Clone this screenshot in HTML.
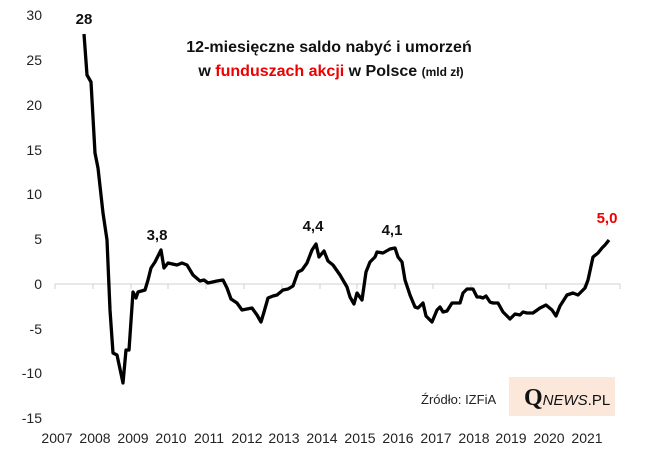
<!DOCTYPE html>
<html><head><meta charset="utf-8"><style>
body{margin:0;background:#fff}
svg{display:block;font-family:"Liberation Sans",sans-serif}
</style></head><body>
<svg width="648" height="455" viewBox="0 0 648 455">
<g font-size="14" fill="#222" text-anchor="end">
<text x="42" y="20">30</text><text x="42" y="65">25</text><text x="42" y="110">20</text>
<text x="42" y="155">15</text><text x="42" y="199">10</text><text x="42" y="244">5</text>
<text x="42" y="289">0</text><text x="42" y="334">-5</text><text x="42" y="378">-10</text><text x="42" y="423">-15</text>
</g>
<line x1="55" y1="284" x2="620" y2="284" stroke="#d0d0d0" stroke-width="1"/>
<g stroke="#d0d0d0">
<line x1="55" y1="284" x2="55" y2="289"/><line x1="93" y1="284" x2="93" y2="289"/><line x1="131" y1="284" x2="131" y2="289"/><line x1="168" y1="284" x2="168" y2="289"/><line x1="206" y1="284" x2="206" y2="289"/><line x1="244" y1="284" x2="244" y2="289"/><line x1="282" y1="284" x2="282" y2="289"/><line x1="320" y1="284" x2="320" y2="289"/><line x1="357" y1="284" x2="357" y2="289"/><line x1="395" y1="284" x2="395" y2="289"/><line x1="433" y1="284" x2="433" y2="289"/><line x1="471" y1="284" x2="471" y2="289"/><line x1="509" y1="284" x2="509" y2="289"/><line x1="546" y1="284" x2="546" y2="289"/><line x1="584" y1="284" x2="584" y2="289"/><line x1="620" y1="284" x2="620" y2="289"/>
</g>
<g font-size="14" fill="#222" text-anchor="middle">
<text x="57" y="443">2007</text><text x="95" y="443">2008</text><text x="133" y="443">2009</text><text x="171" y="443">2010</text><text x="209" y="443">2011</text><text x="247" y="443">2012</text><text x="284" y="443">2013</text><text x="322" y="443">2014</text><text x="360" y="443">2015</text><text x="398" y="443">2016</text><text x="436" y="443">2017</text><text x="474" y="443">2018</text><text x="511" y="443">2019</text><text x="549" y="443">2020</text><text x="587" y="443">2021</text>
</g>
<polyline fill="none" stroke="#000" stroke-width="3.3" stroke-linejoin="round" points="84,34 87,75 91,82 95,153 98,168 101,195 103,213 107,240 110,310 113,353 117,355 123,383 126,350 129,350 133,292 136,298 138,292 145,290 148,280 151,268 155,262 161,250 164,268 168,263 177,265 182,263 187,265 193,275 200,281 204,280 208,283 217,281 223,280 227,288 231,299 237,303 242,310 252,308 257,315 261,322 264,312 268,298 273,296 277,295 283,290 288,289 293,286 298,272 302,270 307,263 312,250 316,244 319,257 324,251 328,261 333,265 340,275 347,287 350,297 354,304 357,293 362,300 366,272 370,262 375,257 377,252 383,253 390,249 395,248 398,257 402,262 405,280 410,295 415,307 418,308 423,303 426,316 432,322 437,310 440,307 443,312 447,311 452,303 460,303 463,293 467,289 473,289 477,297 480,297 483,298 486,296 490,302 493,303 498,303 503,312 510,319 515,314 520,315 523,312 527,313 533,313 540,308 546,305 552,310 556,316 560,306 567,295 573,293 578,295 585,288 588,280 593,257 598,253 602,248 605,245 609,240"/>
<g font-size="15" font-weight="bold" text-anchor="middle" fill="#111">
<text x="84" y="24">28</text><text x="157" y="240">3,8</text><text x="313" y="231">4,4</text><text x="392" y="235">4,1</text>
<text x="607" y="223" fill="#e00">5,0</text>
</g>
<g font-weight="bold" text-anchor="middle" fill="#111" font-size="16">
<text x="329" y="52">12-miesięczne saldo nabyć i umorzeń</text>
<text x="331" y="76">w <tspan fill="#e00">funduszach akcji</tspan> w Polsce <tspan font-size="12">(mld zł)</tspan></text>
</g>
<text x="421" y="404" font-size="13" fill="#222">Źródło: IZFiA</text>
<rect x="509" y="377" width="106" height="39" fill="#fbe8db"/>
<text x="524" y="405" font-family="Liberation Serif,serif" font-weight="bold" font-size="24" fill="#111">Q<tspan font-family="Liberation Sans,sans-serif" font-weight="normal" font-size="15" font-style="italic">NEWS</tspan><tspan font-family="Liberation Sans,sans-serif" font-weight="normal" font-size="15">.PL</tspan></text>
</svg>
</body></html>
